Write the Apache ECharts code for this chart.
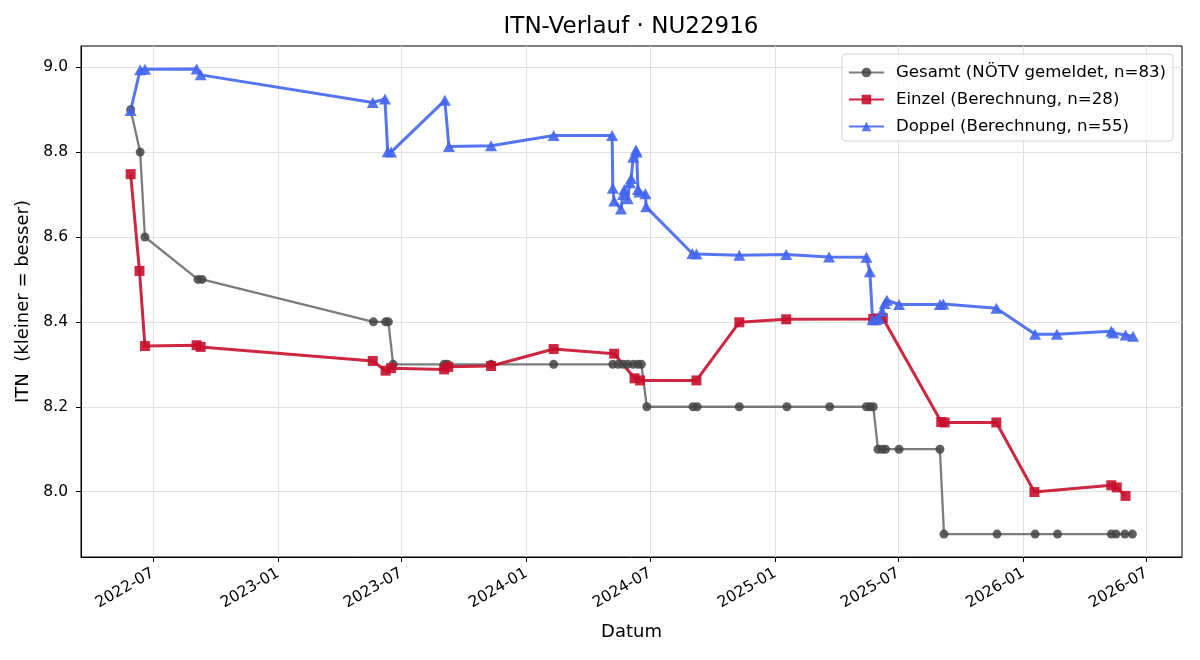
<!DOCTYPE html>
<html>
<head>
<meta charset="utf-8">
<title>ITN-Verlauf</title>
<script src="https://cdn.jsdelivr.net/npm/echarts@6/dist/echarts.min.js"></script>
<style>
  html, body { margin: 0; padding: 0; background: #fff; }
  #chart { width: 1200px; height: 660px; }
</style>
</head>
<body>
<div id="chart"></div>
<script>
// Gesamt (NÖTV gemeldet)
const gesamtDates = [
  '2022-05-29', '2022-06-12', '2022-06-19', '2022-09-05', '2022-09-11',
  '2023-05-21', '2023-06-08', '2023-06-12', '2023-06-19', '2023-09-02',
  '2023-09-07', '2023-11-10', '2024-02-10', '2024-05-07', '2024-05-15',
  '2024-05-22', '2024-05-29', '2024-06-06', '2024-06-13', '2024-06-18',
  '2024-06-26', '2024-09-02', '2024-09-08', '2024-11-09', '2025-01-18',
  '2025-03-22', '2025-05-15', '2025-05-20', '2025-05-25', '2025-06-01',
  '2025-06-07', '2025-06-12', '2025-07-02', '2025-08-31', '2025-09-06',
  '2025-11-23', '2026-01-18', '2026-02-20', '2026-05-10', '2026-05-17',
  '2026-05-30', '2026-06-10'
];
const gesamtValues = [
  8.9, 8.8, 8.6, 8.5, 8.5,
  8.4, 8.4, 8.4, 8.3, 8.3,
  8.3, 8.3, 8.3, 8.3, 8.3,
  8.3, 8.3, 8.3, 8.3, 8.3,
  8.2, 8.2, 8.2, 8.2, 8.2,
  8.2, 8.2, 8.2, 8.2, 8.1,
  8.1, 8.1, 8.1, 8.1, 7.9,
  7.9, 7.9, 7.9, 7.9, 7.9,
  7.9, 7.9
];

// Einzel (Berechnung)
const einzelDates = [
  '2022-05-29', '2022-06-11', '2022-06-19', '2022-09-03', '2022-09-09',
  '2023-05-20', '2023-06-08', '2023-06-16', '2023-09-02', '2023-09-08',
  '2023-11-10', '2024-02-10', '2024-05-09', '2024-06-08', '2024-06-16',
  '2024-09-07', '2024-11-09', '2025-01-17', '2025-05-25', '2025-06-01',
  '2025-06-08', '2025-09-02', '2025-09-07', '2025-11-22', '2026-01-17',
  '2026-05-10', '2026-05-18', '2026-05-31'
];
const einzelValues = [
  8.748, 8.52, 8.343, 8.345, 8.341,
  8.308, 8.285, 8.291, 8.288, 8.294,
  8.296, 8.336, 8.325, 8.267, 8.262,
  8.262, 8.399, 8.406, 8.407, 8.408,
  8.409, 8.164, 8.163, 8.163, 7.999,
  8.015, 8.010, 7.990
];

// Doppel (Berechnung)
const doppelDates = [
  '2022-05-29', '2022-06-12', '2022-06-19', '2022-09-03', '2022-09-09',
  '2023-05-20', '2023-06-07', '2023-06-11', '2023-06-16', '2023-09-03',
  '2023-09-09', '2023-11-10', '2024-02-10', '2024-05-06', '2024-05-07',
  '2024-05-09', '2024-05-19', '2024-05-22', '2024-05-24', '2024-05-29',
  '2024-06-01', '2024-06-03', '2024-06-06', '2024-06-10', '2024-06-11',
  '2024-06-13', '2024-06-15', '2024-06-24', '2024-06-25', '2024-09-01',
  '2024-09-07', '2024-11-09', '2025-01-17', '2025-03-21', '2025-05-15',
  '2025-05-20', '2025-05-24', '2025-05-29', '2025-06-03', '2025-06-07',
  '2025-06-11', '2025-06-14', '2025-07-02', '2025-08-31', '2025-09-05',
  '2025-11-22', '2026-01-18', '2026-02-19', '2026-05-10', '2026-05-13',
  '2026-05-31', '2026-06-11'
];
const doppelValues = [
  8.898, 8.994, 8.995, 8.996, 8.982,
  8.917, 8.925, 8.801, 8.800, 8.922,
  8.813, 8.815, 8.839, 8.839, 8.715,
  8.685, 8.666, 8.700, 8.712, 8.690,
  8.728, 8.738, 8.788, 8.805, 8.800,
  8.712, 8.706, 8.702, 8.671, 8.561,
  8.560, 8.557, 8.559, 8.553, 8.552,
  8.518, 8.405, 8.405, 8.408, 8.425,
  8.443, 8.451, 8.441, 8.441, 8.442,
  8.432, 8.371, 8.371, 8.378, 8.374,
  8.369, 8.366
];

const xTicks = ['2022-07-01', '2023-01-01', '2023-07-01', '2024-01-01', '2024-07-01',
  '2025-01-01', '2025-07-01', '2026-01-01', '2026-07-01'];
const yTicks = [8.0, 8.2, 8.4, 8.6, 8.8, 9.0];

// dates -> timestamps (value axis), so the custom 6-month ticks work
const parse = (d) => +echarts.time.parse(d);
const zip = (ds, vs) => ds.map((d, i) => [parse(d), vs[i]]);

const chart = echarts.init(document.getElementById('chart'));
const font = 'DejaVu Sans';

const option = {
  animation: false,
  textStyle: { fontFamily: font },
  title: {
    text: 'ITN-Verlauf · NU22916',
    left: 631,
    textAlign: 'center',
    top: 16,
    padding: 0,
    textStyle: { fontFamily: font, fontSize: 23, fontWeight: 'normal', color: '#000' }
  },
  legend: {
    orient: 'vertical',
    right: 27,
    top: 54,
    padding: [10, 7, 6, 6],
    itemWidth: 35,
    itemHeight: 12,
    itemGap: 10,
    backgroundColor: 'rgba(255,255,255,0.8)',
    borderColor: '#d0d0d0',
    borderWidth: 1,
    borderRadius: 4,
    textStyle: { fontFamily: font, fontSize: 16.6, color: '#000', padding: [0, 0, 0, 7] }
  },
  grid: {
    left: 81, right: 18, top: 46, bottom: 103,
    show: true, borderColor: '#000', borderWidth: 1, backgroundColor: 'transparent'
  },
  xAxis: {
    type: 'value',
    min: parse('2022-03-17'),
    max: parse('2026-08-22'),
    name: 'Datum',
    nameLocation: 'middle',
    nameGap: 66,
    nameTextStyle: { fontFamily: font, fontSize: 18, color: '#000' },
    axisLine: { show: true, lineStyle: { color: '#000', width: 1 } },
    axisTick: { show: true, inside: false, length: 5, lineStyle: { color: '#000' },
      customValues: xTicks.map(parse) },
    axisLabel: {
      customValues: xTicks.map(parse),
      rotate: 30,
      margin: 15,
      fontFamily: font, fontSize: 15.5, color: '#000',
      formatter: (v) => echarts.time.format(v, '{yyyy}-{MM}', false)
    },
    splitLine: { show: true, lineStyle: { color: '#e0e0e0', width: 1 } }
  },
  yAxis: {
    type: 'value',
    min: 7.846,
    max: 9.05,
    name: 'ITN  (kleiner = besser)',
    nameLocation: 'middle',
    nameGap: 45,
    nameTextStyle: { fontFamily: font, fontSize: 18, color: '#000' },
    axisLine: { show: true, lineStyle: { color: '#000', width: 1 } },
    axisTick: { show: true, inside: false, length: 5, lineStyle: { color: '#000' },
      customValues: yTicks },
    axisLabel: {
      customValues: yTicks,
      margin: 13,
      fontFamily: font, fontSize: 15.5, color: '#000',
      formatter: (v) => v.toFixed(1)
    },
    splitLine: { show: true, lineStyle: { color: '#e0e0e0', width: 1 } }
  },
  series: [
    {
      name: 'Gesamt (NÖTV gemeldet, n=83)',
      type: 'line',
      data: zip(gesamtDates, gesamtValues),
      symbol: 'circle',
      symbolSize: 9,
      lineStyle: { color: '#444', width: 2.3, opacity: 0.7 },
      itemStyle: { color: '#444', opacity: 0.85 }
    },
    {
      name: 'Einzel (Berechnung, n=28)',
      type: 'line',
      data: zip(einzelDates, einzelValues),
      symbol: 'rect',
      symbolSize: 10,
      lineStyle: { color: '#c8102e', width: 3, opacity: 0.9 },
      itemStyle: { color: '#c8102e', opacity: 0.9 }
    },
    {
      name: 'Doppel (Berechnung, n=55)',
      type: 'line',
      data: zip(doppelDates, doppelValues),
      symbol: 'triangle',
      symbolSize: [12, 11],
      lineStyle: { color: '#4466f0', width: 3, opacity: 0.9 },
      itemStyle: { color: '#4466f0', opacity: 0.9 }
    }
  ]
};

chart.setOption(option);
window.addEventListener('resize', () => chart.resize());
</script>
</body>
</html>
